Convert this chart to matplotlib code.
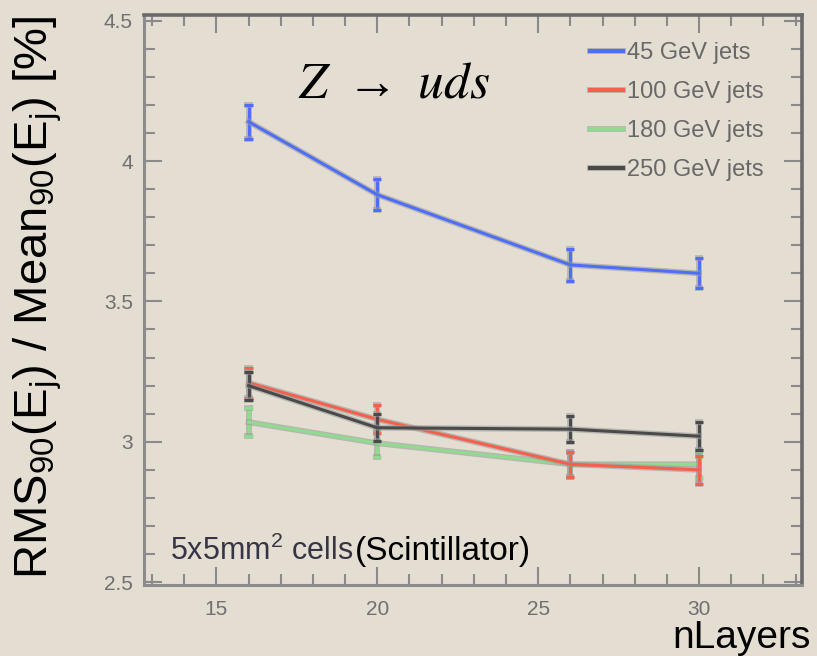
import matplotlib
matplotlib.use("Agg")
import matplotlib.pyplot as plt
import matplotlib.patheffects as pe
from matplotlib.ticker import MultipleLocator

plt.rcParams['font.family'] = ['Liberation Sans', 'DejaVu Sans']
plt.rcParams['mathtext.default'] = 'regular'

# ---------------- data ----------------
n_layers = [16, 20, 26, 30]
labels = ["45 GeV jets", "100 GeV jets", "180 GeV jets", "250 GeV jets"]
res_45 = [4.14, 3.88, 3.63, 3.60]
err_45 = [0.060, 0.055, 0.057, 0.053]
res_100 = [3.21, 3.08, 2.92, 2.90]
err_100 = [0.053, 0.050, 0.045, 0.050]
res_180 = [3.07, 2.995, 2.92, 2.92]
err_180 = [0.050, 0.048, 0.045, 0.048]
res_250 = [3.20, 3.05, 3.045, 3.02]
err_250 = [0.050, 0.048, 0.046, 0.050]

colors = ['#4f6ef7', '#f4604c', '#8fdc8f', '#4a4a4a']
series = [res_45, res_100, res_180, res_250]
errors = [err_45, err_100, err_180, err_250]
zorders = [4, 3, 2, 5]

bg = '#e3ddd2'
W, H = 817, 656
fig = plt.figure(figsize=(W / 100, H / 100), dpi=100, facecolor=bg)
ax = fig.add_axes([144 / W, 1 - 585 / H, (802 - 144) / W, (585 - 15) / H])
ax.set_facecolor(bg)

handles = []
for y, e, c, z in zip(series, errors, colors, zorders):
    cont = ax.errorbar(n_layers, y, yerr=e, color=c, lw=2.2, elinewidth=2.2,
                       capsize=3, capthick=2.2, zorder=z)
    outline = [pe.Stroke(linewidth=4.2, foreground='#9c9c9c', alpha=0.6), pe.Normal()]
    cont[0].set_path_effects(outline)
    for ln in cont[1]:
        ln.set_path_effects(outline)
    for lc in cont[2]:
        lc.set_path_effects(outline)
    handles.append(cont[0])

ax.set_xlim(12.75, 33.2)
ax.set_ylim(2.49, 4.52)
ax.xaxis.set_major_locator(MultipleLocator(5))
ax.xaxis.set_minor_locator(MultipleLocator(1))
ax.yaxis.set_major_locator(MultipleLocator(0.5))
ax.yaxis.set_minor_locator(MultipleLocator(0.1))
ax.tick_params(which='both', direction='in', top=True, right=True,
               color='#8a8a8a', width=1.5)
ax.tick_params(which='major', length=13)
ax.tick_params(which='minor', length=8)
ax.tick_params(axis='x', which='major', pad=11, labelsize=15, labelcolor='#707070')
ax.tick_params(axis='y', which='major', pad=8, labelsize=15, labelcolor='#707070')
ax.set_yticks([2.5, 3.0, 3.5, 4.0, 4.5])
ax.set_yticklabels(['2.5', '3', '3.5', '4', '4.5'])

for s in ['left', 'bottom']:
    ax.spines[s].set_color('#8c8c8c')
    ax.spines[s].set_linewidth(2.2)
for s in ['top', 'right']:
    ax.spines[s].set_color('#6a6a6a')
    ax.spines[s].set_linewidth(2.6)

leg = ax.legend(handles, labels, loc='upper left', bbox_to_anchor=(0.678, 0.952),
                frameon=False, fontsize=17, labelcolor='#686868',
                handlelength=1.4, handletextpad=0.17, labelspacing=0.72,
                borderpad=0, borderaxespad=0)
for ln in leg.get_lines():
    ln.set_linewidth(3)

# texts
fig.text(394 / W, 1 - 84 / H, r'$\mathit{Z}\ \rightarrow\ \mathit{uds}$', fontsize=37,
         math_fontfamily='stix', ha='center', va='center')
fig.text(12 / W, 1 - 297.5 / H,
         r'RMS$_{90}$(E$_{j}$) / Mean$_{90}$(E$_{j}$) [%]',
         rotation=90, fontsize=34, ha='left', va='center', color='black')
fig.text(811 / W, 1 - 648 / H, 'nLayers', fontsize=28, ha='right',
         va='baseline', color='black')
fig.text(170 / W, 1 - 560 / H, '5x5mm$^{2}$ cells', fontsize=22,
         color='#353545', ha='left', va='baseline')
fig.text(355 / W, 1 - 560 / H, '(Scintillator)', fontsize=24,
         color='black', ha='left', va='baseline')

fig.savefig('out.png', dpi=100, facecolor=bg)
